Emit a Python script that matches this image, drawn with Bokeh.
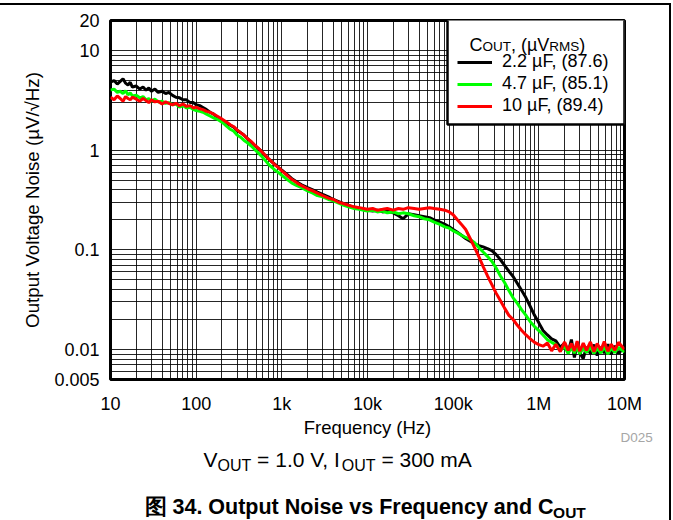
from bokeh.plotting import figure
from bokeh.layouts import column, row
from bokeh.models import Range1d, FixedTicker, Legend, LegendItem, Label, BoxAnnotation
from bokeh.core.properties import value
from bokeh.embed import file_html
from bokeh.resources import INLINE

# ---------------- data ----------------
FREQ_HZ = [
    10, 11, 12, 13, 14, 15, 16, 17, 18, 20,
    22, 24, 26, 28, 30, 33, 36, 40, 44, 48,
    53, 58, 64, 70, 77, 85, 93, 100, 110, 120,
    132, 145, 160, 175, 192, 210, 230, 250, 275, 300,
    330, 360, 400, 440, 480, 530, 580, 640, 700, 770,
    850, 930, 1000, 1150, 1300, 1500, 1700, 2000, 2300, 2600,
    3000, 3500, 4000, 4600, 5300, 6000, 7000, 8000, 9000, 10000,
    11500, 13000, 15000, 17000, 20000, 23000, 26000, 30000, 35000, 40000,
    46000, 53000, 60000, 70000, 80000, 90000, 100000, 112000, 125000, 140000,
    158000, 178000, 200000, 224000, 251000, 282000, 316000, 355000, 398000, 447000,
    501000, 562000, 631000, 708000, 794000, 891000, 1000000, 1120000, 1260000, 1410000,
    1580000, 1780000, 2000000, 2200000, 2400000, 2600000, 2800000, 3000000, 3300000, 3600000,
    4000000, 4400000, 4800000, 5300000, 5800000, 6400000, 7000000, 7700000, 8500000, 10000000,
]

NOISE_2U2 = [
    4.8, 5.0, 4.6, 4.9, 5.2, 4.7, 4.5, 4.8, 4.3, 4.4,
    4.1, 4.3, 4.0, 4.2, 3.9, 4.1, 3.8, 3.9, 3.7, 3.8,
    3.55, 3.4, 3.35, 3.2, 3.2, 3.0, 3.0, 2.85, 2.8, 2.68,
    2.55, 2.4, 2.3, 2.15, 2.05, 1.95, 1.85, 1.78, 1.7, 1.58,
    1.5, 1.42, 1.3, 1.2, 1.12, 1.04, 0.97, 0.88, 0.82, 0.76,
    0.71, 0.66, 0.63, 0.57, 0.52, 0.48, 0.45, 0.42, 0.4, 0.38,
    0.36, 0.34, 0.32, 0.305, 0.29, 0.28, 0.265, 0.26, 0.255, 0.25,
    0.245, 0.25, 0.24, 0.245, 0.235, 0.22, 0.205, 0.23, 0.225, 0.22,
    0.215, 0.21, 0.2, 0.19, 0.18, 0.17, 0.16, 0.15, 0.14, 0.13,
    0.122, 0.115, 0.11, 0.107, 0.103, 0.098, 0.09, 0.08, 0.07, 0.061,
    0.054, 0.046, 0.039, 0.033, 0.027, 0.022, 0.0185, 0.0155, 0.014, 0.0128,
    0.0122, 0.0105, 0.0116, 0.0093, 0.0126, 0.0083, 0.0112, 0.0093, 0.0081, 0.0106,
    0.0091, 0.0112, 0.0087, 0.0106, 0.0092, 0.0113, 0.0089, 0.0109, 0.0091, 0.0106,
]

NOISE_4U7 = [
    4.0, 4.1, 3.8, 3.9, 3.7, 3.95, 3.6, 3.75, 3.5, 3.55,
    3.35, 3.45, 3.2, 3.3, 3.1, 3.25, 3.05, 3.1, 2.95, 3.0,
    2.85, 2.9, 2.7, 2.8, 2.65, 2.7, 2.55, 2.5, 2.45, 2.4,
    2.3, 2.2, 2.1, 2.05, 1.95, 1.85, 1.72, 1.62, 1.55, 1.42,
    1.35, 1.26, 1.18, 1.1, 1.02, 0.94, 0.87, 0.79, 0.72, 0.67,
    0.62, 0.59, 0.56, 0.51, 0.47, 0.44, 0.42, 0.39, 0.37, 0.35,
    0.34, 0.32, 0.31, 0.295, 0.28, 0.27, 0.26, 0.255, 0.25, 0.245,
    0.25, 0.24, 0.245, 0.235, 0.24, 0.23, 0.235, 0.23, 0.22, 0.215,
    0.205, 0.2, 0.19, 0.18, 0.17, 0.165, 0.155, 0.148, 0.14, 0.133,
    0.127, 0.118, 0.105, 0.095, 0.086, 0.077, 0.066, 0.055, 0.047, 0.039,
    0.033, 0.029, 0.025, 0.022, 0.019, 0.017, 0.0155, 0.014, 0.0125, 0.0118,
    0.0112, 0.0098, 0.0107, 0.0091, 0.0105, 0.0092, 0.0106, 0.009, 0.0104, 0.0093,
    0.0106, 0.0091, 0.0103, 0.0092, 0.0107, 0.009, 0.0104, 0.0093, 0.0105, 0.0094,
]

NOISE_10U = [
    3.4, 3.2, 3.5, 3.3, 3.1, 3.45, 3.3, 3.2, 3.4, 3.25,
    3.1, 3.3, 3.15, 3.0, 3.2, 3.05, 3.1, 2.9, 3.05, 2.95,
    2.85, 2.95, 2.8, 2.9, 2.75, 2.8, 2.65, 2.7, 2.6, 2.55,
    2.45, 2.4, 2.3, 2.2, 2.1, 2.0, 1.9, 1.8, 1.72, 1.6,
    1.5, 1.42, 1.3, 1.22, 1.13, 1.05, 0.97, 0.89, 0.82, 0.76,
    0.7, 0.66, 0.62, 0.56, 0.51, 0.47, 0.44, 0.41, 0.39, 0.37,
    0.35, 0.33, 0.32, 0.3, 0.29, 0.28, 0.27, 0.265, 0.26, 0.255,
    0.26, 0.25, 0.255, 0.26, 0.25, 0.26, 0.255, 0.265, 0.26, 0.255,
    0.26, 0.265, 0.26, 0.255, 0.25, 0.24, 0.225, 0.2, 0.18, 0.16,
    0.13, 0.105, 0.085, 0.068, 0.055, 0.045, 0.037, 0.031, 0.026, 0.022,
    0.02, 0.0175, 0.0155, 0.014, 0.0128, 0.0118, 0.0112, 0.0108, 0.0116, 0.0097,
    0.0113, 0.0095, 0.0119, 0.0098, 0.0115, 0.0097, 0.0121, 0.0096, 0.0116, 0.0098,
    0.0119, 0.0095, 0.0115, 0.0098, 0.012, 0.0096, 0.0113, 0.0098, 0.0118, 0.01,
]

SERIES = [NOISE_2U2, NOISE_4U7, NOISE_10U]
SERIES_LABELS = ["2.2 µF, (87.6)", "4.7 µF, (85.1)", "10 µF, (89.4)"]
SERIES_COLORS = ["#000000", "#00ff00", "#ff0000"]

X_TICKS = [10, 100, 1000, 10000, 100000, 1000000, 10000000]
X_TICK_LABELS = ["10", "100", "1k", "10k", "100k", "1M", "10M"]
Y_TICKS = [0.005, 0.01, 0.1, 1, 10, 20]
Y_TICK_LABELS = ["0.005", "0.01", "0.1", "1", "10", "20"]

X_TITLE = "Frequency (Hz)"
Y_TITLE = "Output Voltage Noise (µV/√Hz)"
TAG = "D025"

FONT = "Liberation Sans"

# ---------------- page geometry (pixels from the page's top-left) ----------------
PAGE_H = 520
RULE_TOP = 3            # outer top rule occupies y 3..5
RULE_W = 2
CONTENT_TOP = RULE_TOP + RULE_W
CHART_W = 669           # outer right rule occupies x 669..671
CHART_BOTTOM = 416      # page y where the caption strip begins
FRAME_LEFT, FRAME_RIGHT, FRAME_TOP, FRAME_BOTTOM = 110, 624, 20, 383

# ---------------- main chart ----------------
p = figure(width=CHART_W, height=CHART_BOTTOM - CONTENT_TOP,
           x_axis_type="log", y_axis_type="log",
           x_range=Range1d(10, 1e7), y_range=Range1d(0.005, 20),
           output_backend="svg", toolbar_location=None,
           min_border_left=FRAME_LEFT, min_border_right=CHART_W - FRAME_RIGHT,
           min_border_top=FRAME_TOP - CONTENT_TOP, min_border_bottom=CHART_BOTTOM - FRAME_BOTTOM)
p.background_fill_color = "white"
p.border_fill_color = "white"
p.outline_line_color = "black"
p.outline_line_width = 3

xgrid_ticks = [m * 10 ** e for e in range(1, 7) for m in range(1, 10)] + [1e7]
ygrid_ticks = [v for v in [m * 10.0 ** e for e in range(-3, 1) for m in range(1, 10)] if v >= 0.005 - 1e-12] + [10, 20]
p.xgrid.ticker = FixedTicker(ticks=xgrid_ticks)
p.ygrid.ticker = FixedTicker(ticks=ygrid_ticks)
for g in (p.xgrid, p.ygrid):
    g.grid_line_color = "black"
    g.grid_line_alpha = 0.85
    g.grid_line_width = 1

p.xaxis.ticker = FixedTicker(ticks=X_TICKS)
p.yaxis.ticker = FixedTicker(ticks=Y_TICKS)
p.xaxis.major_label_overrides = dict(zip(X_TICKS, X_TICK_LABELS))
p.yaxis.major_label_overrides = dict(zip(Y_TICKS, Y_TICK_LABELS))
for ax in (p.xaxis, p.yaxis):
    ax.axis_line_color = None
    ax.major_tick_line_color = None
    ax.minor_tick_line_color = None
    ax.major_label_text_font = FONT
    ax.major_label_text_font_size = "18px"
    ax.major_label_text_color = "black"
    ax.axis_label_text_font = FONT
    ax.axis_label_text_font_size = "18.7px"
    ax.axis_label_text_font_style = "normal"
    ax.axis_label_text_color = "black"
p.yaxis.axis_label = Y_TITLE
p.xaxis.major_label_standoff = 8
p.yaxis.major_label_standoff = 5
p.yaxis.axis_label_standoff = 8

# ---------------- text helpers ----------------
W_REG = {' ': 278, ',': 278, '.': 278, '(': 333, ')': 333, '/': 278, '=': 584, 'µ': 576,
         'A': 667, 'C': 722, 'F': 611, 'H': 722, 'I': 278, 'M': 833, 'N': 722, 'O': 778,
         'R': 722, 'S': 667, 'T': 611, 'U': 722, 'V': 667, 'a': 556, 'd': 556, 'e': 556,
         'g': 556, 'i': 222, 'l': 222, 'm': 833, 'n': 556, 'o': 556, 'p': 556, 'q': 556,
         'r': 333, 's': 500, 't': 278, 'u': 556, 'v': 500, 'y': 500, 'z': 500}
W_BOLD = {' ': 278, '.': 278, 'C': 722, 'F': 611, 'N': 722, 'O': 778, 'T': 611, 'U': 722,
          'a': 556, 'd': 611, 'e': 556, 'i': 278, 'n': 611, 'o': 611, 'p': 611, 'q': 611,
          'r': 389, 's': 556, 't': 333, 'u': 611, 'v': 556, 'y': 556}


def text_width(s, size, bold=False):
    tab = W_BOLD if bold else W_REG
    tot = 0
    for ch in s:
        if ord(ch) > 0x2E80:
            tot += 1000
        elif ch.isdigit():
            tot += 556
        else:
            tot += tab.get(ch, 556)
    return tot * size / 1000.0


def frame_label(text, px, py, size, bold=False, color="black"):
    # a label inside the chart frame, given in page pixels
    p.add_layout(Label(x=px - FRAME_LEFT, y=FRAME_BOTTOM - py,
                       x_units="screen", y_units="screen", text=text,
                       text_font=FONT, text_font_size=f"{size}px",
                       text_font_style="bold" if bold else "normal",
                       text_color=color, text_align="left", text_baseline="alphabetic"))


def frame_rich(pieces, px, py):
    x = px
    for txt, size, dy in pieces:
        frame_label(txt, x, py + dy, size)
        x += text_width(txt, size)


# ---------------- curves ----------------
renderers = []
for vals, col in zip(SERIES, SERIES_COLORS):
    renderers.append(p.line(FREQ_HZ, vals, line_color=col, line_width=3))

# legend frame (white box with a black rule)
p.add_layout(BoxAnnotation(left=447 - FRAME_LEFT, right=FRAME_RIGHT - FRAME_LEFT,
                           top=FRAME_BOTTOM - FRAME_TOP, bottom=FRAME_BOTTOM - 128,
                           left_units="screen", right_units="screen",
                           top_units="screen", bottom_units="screen",
                           fill_color="white", fill_alpha=1,
                           line_color="black", line_width=2.5, line_alpha=1))

legend = Legend(items=[LegendItem(label=lab, renderers=[r]) for lab, r in zip(SERIES_LABELS, renderers)],
                location=(347, FRAME_BOTTOM - 120), orientation="vertical",
                label_text_font=FONT, label_text_font_size="18px", label_text_color="black",
                glyph_width=35, glyph_height=20, label_height=20, label_standoff=10,
                spacing=1, padding=0, margin=0,
                border_line_color=None, background_fill_alpha=0)
p.add_layout(legend)

# legend title  C_OUT, (µV_RMS)
frame_rich([("C", 18, 0), ("OUT", 13.5, 2), (", (µV", 18, 0), ("RMS", 13.5, 2), (")", 18, 0)], 469, 48)

# ---------------- caption strip (below the chart, page coordinates) ----------------
cap = figure(width=CHART_W, height=PAGE_H - CHART_BOTTOM,
             x_range=Range1d(0, CHART_W), y_range=Range1d(PAGE_H, CHART_BOTTOM),
             output_backend="svg", toolbar_location=None,
             x_axis_location=None, y_axis_location=None,
             min_border_left=0, min_border_right=0,
             min_border_top=0, min_border_bottom=0)
cap.grid.visible = False
cap.outline_line_color = None
cap.background_fill_color = "white"
cap.border_fill_color = "white"


def cap_text(text, px, baseline, size, bold=False, color="black", align="left"):
    # placed by its vertical middle, converted from the wanted baseline
    cap.text(x=[px], y=[baseline - 0.36 * size], text=[text], text_font=value(FONT),
             text_font_size=value(f"{size}px"),
             text_font_style="bold" if bold else "normal",
             text_color=color, text_align=align, text_baseline="middle")


def cap_rich(pieces, px, baseline, bold=False):
    x = px
    for txt, size, dy in pieces:
        lead = len(txt) - len(txt.lstrip(" "))
        x += text_width(" " * lead, size, bold)
        body = txt.lstrip(" ")
        cap_text(body, x, baseline + dy, size, bold=bold)
        x += text_width(body, size, bold)


cap_text(X_TITLE, (FRAME_LEFT + FRAME_RIGHT) / 2, 434, 18.5, align="center")
cap_text(TAG, 620, 442, 13.5, color="#a6a6a6")
cap_rich([("V", 21, 0), ("OUT", 16, 4), (" = 1.0 V, I", 21, 0), ("OUT", 16, 4), (" = 300 mA", 21, 0)], 203, 467)
cap_rich([("图 34. Output Noise vs Frequency and C", 21.5, 0), ("OUT", 15.5, 4)], 144, 514, bold=True)

layout = column(p, row(cap, spacing=0), spacing=0,
                styles={"margin-top": f"{RULE_TOP}px",
                        "border-top": f"{RULE_W}px solid black",
                        "border-right": f"{RULE_W}px solid black"})

open("out.html", "w").write(file_html(layout, INLINE))
